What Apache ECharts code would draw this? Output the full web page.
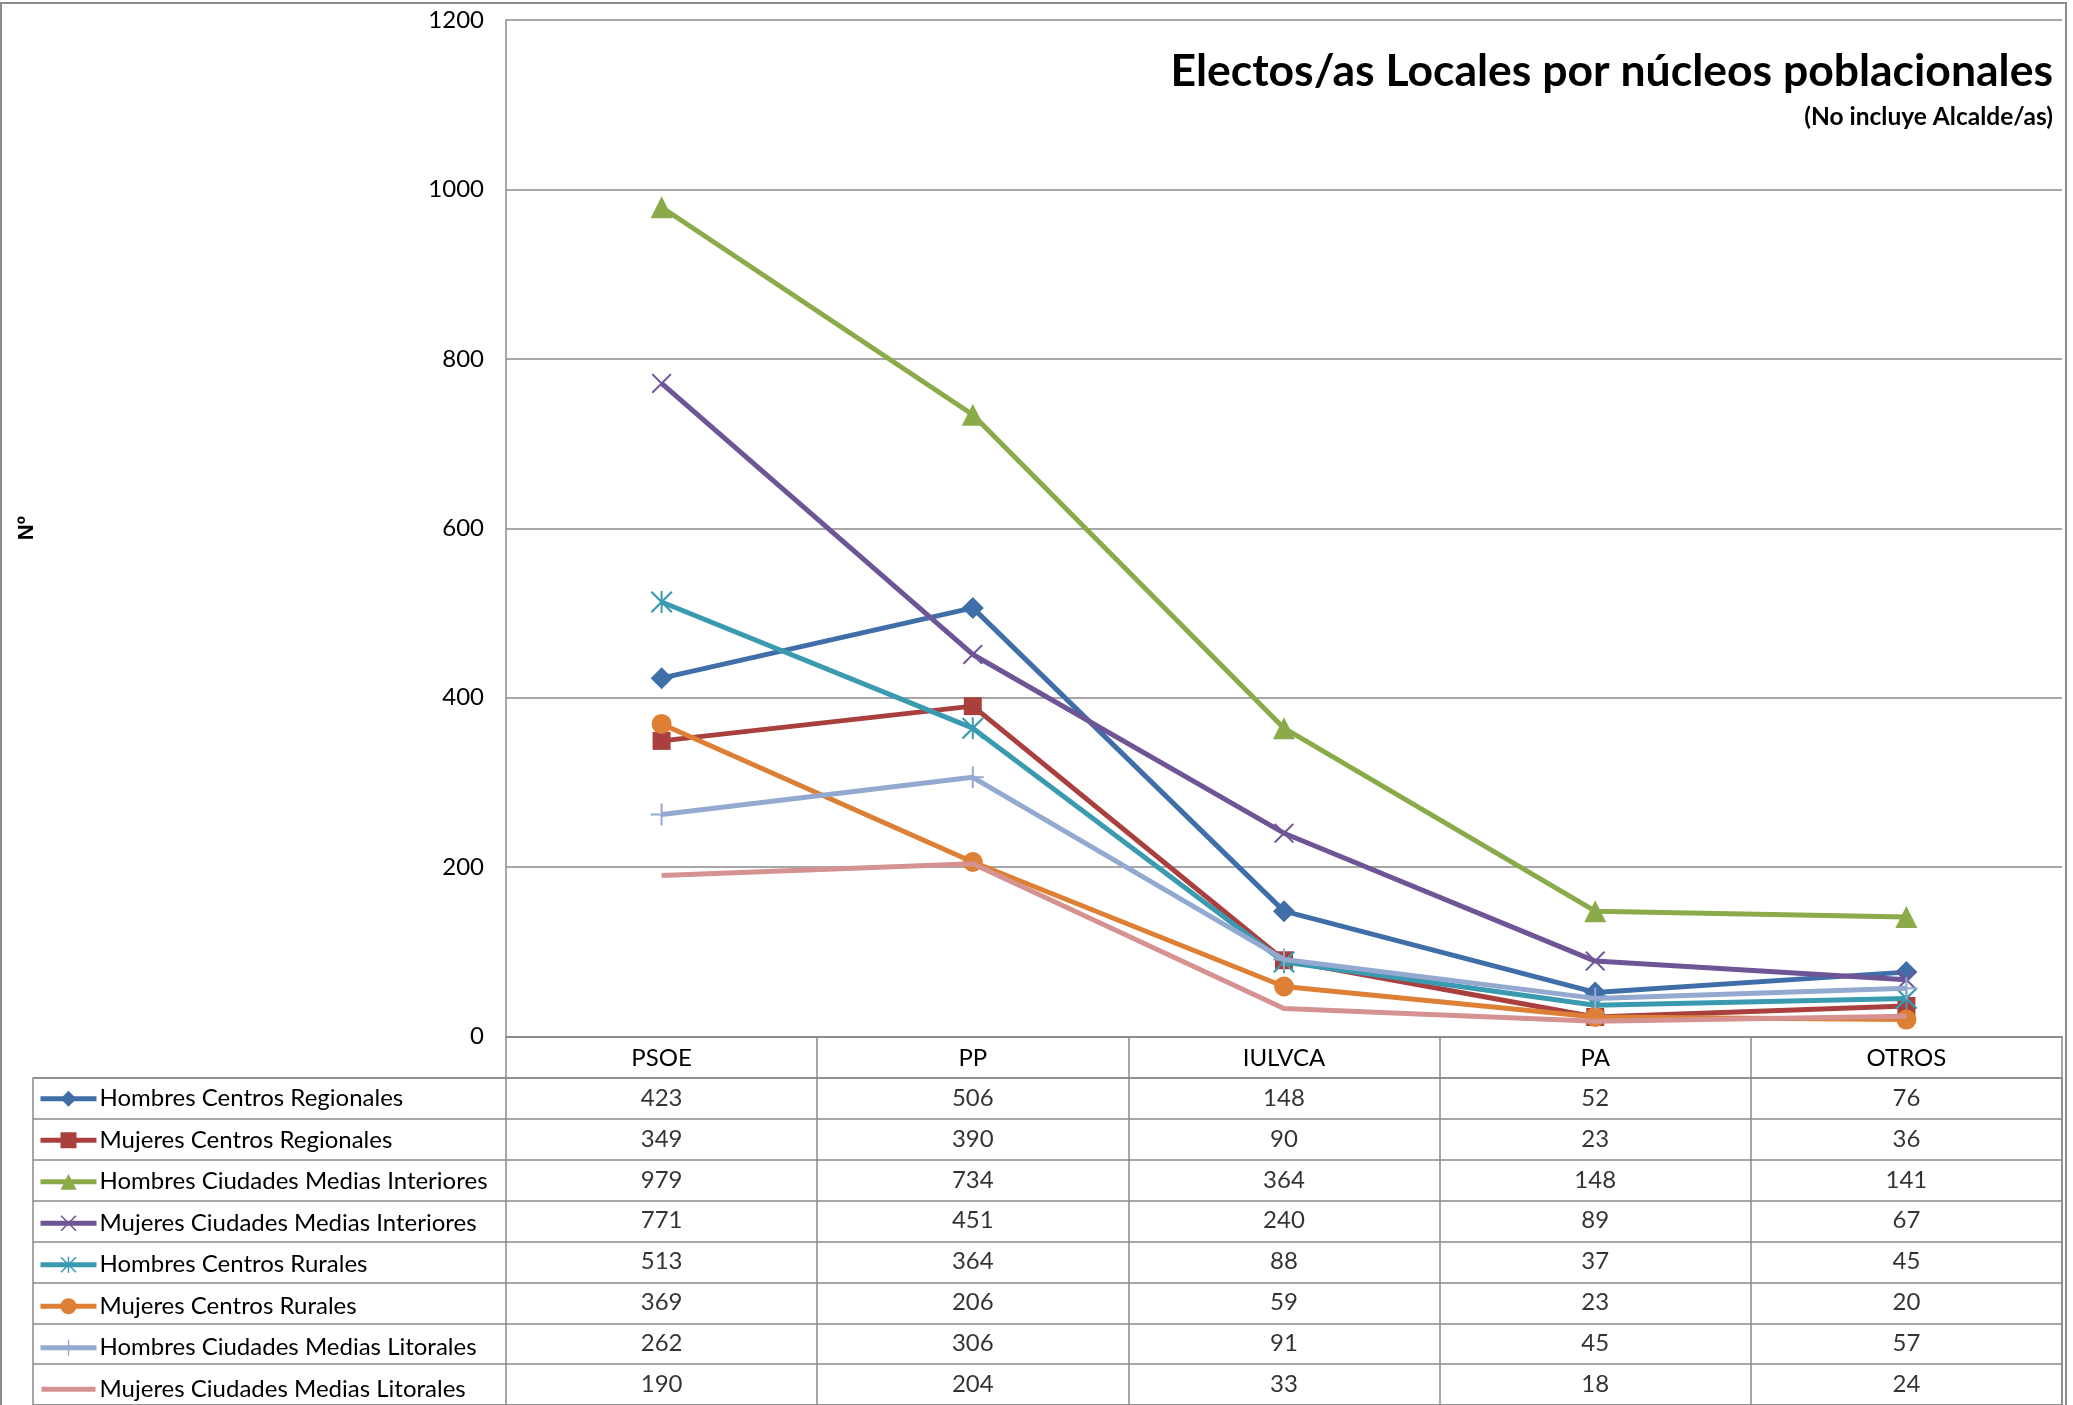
<!DOCTYPE html>
<html>
<head>
<meta charset="utf-8">
<script src="https://cdn.jsdelivr.net/npm/echarts@6/dist/echarts.min.js"></script>
<style>
  html, body { margin: 0; padding: 0; background: #fff; }
  #chart { width: 2073px; height: 1405px; }
</style>
</head>
<body>
<div id="chart"></div>
<script>
// categorias (partidos)
const categories = ['PSOE', 'PP', 'IULVCA', 'PA', 'OTROS']

// nombres de las series
const seriesNames = [
  'Hombres Centros Regionales',
  'Mujeres Centros Regionales',
  'Hombres Ciudades Medias Interiores',
  'Mujeres Ciudades Medias Interiores',
  'Hombres Centros Rurales',
  'Mujeres Centros Rurales',
  'Hombres Ciudades Medias Litorales',
  'Mujeres Ciudades Medias Litorales'
]

// valores de cada serie
const hombresCentrosRegionales = [423, 506, 148, 52, 76]
const mujeresCentrosRegionales = [349, 390, 90, 23, 36]
const hombresMediasInteriores = [979, 734, 364, 148, 141]
const mujeresMediasInteriores = [771, 451, 240, 89, 67]
const hombresCentrosRurales = [513, 364, 88, 37, 45]
const mujeresCentrosRurales = [369, 206, 59, 23, 20]
const hombresMediasLitorales = [262, 306, 91, 45, 57]
const mujeresMediasLitorales = [190, 204, 33, 18, 24]

const seriesValues = [
  hombresCentrosRegionales,
  mujeresCentrosRegionales,
  hombresMediasInteriores,
  mujeresMediasInteriores,
  hombresCentrosRurales,
  mujeresCentrosRurales,
  hombresMediasLitorales,
  mujeresMediasLitorales
]

// eje Y
const yMin = 0
const yMax = 1200
const yStep = 200

// marcadores tipo Excel (x, asterisco, cruz)
const xMark = 'path://M0,1.4L1.4,0L10,8.6L18.6,0L20,1.4L11.4,10L20,18.6L18.6,20L10,11.4L1.4,20L0,18.6L8.6,10Z'
const starMark = xMark + 'M9.1,0h1.8v20h-1.8z'
const plusMark = 'path://M9.1,0h1.8v9.1h9.1v1.8h-9.1v9.1h-1.8v-9.1h-9.1v-1.8h9.1z'
// icono de leyenda solo linea (serie sin marcador)
const lineOnlyIcon = 'path://M0,0L0.01,0L0,0.01ZM1,7.5H55V12.5H1ZM55.99,20L56,20L56,19.99Z'

const colors = ['#3f6ea8', '#a9403d', '#8bab4a', '#6e5596', '#3a9bb0', '#dd8035', '#94a9d0', '#d59290']
const symbols = ['diamond', 'rect', 'triangle', xMark, starMark, 'circle', plusMark, 'none']
const symbolSizes = [22, 18, 22, 20, 22, 20, 22, 0]

const FONT = 'Lato'
const GRID_LINE = '#8a8a8a'
const FS = 24

// medidas de la tabla
const plotLeft = 506
const plotRight = 11
const plotTop = 20
const plotBottom = 1036.5
const rowH = 41.5

const chart = echarts.init(document.getElementById('chart'))

// series de lineas
const lineSeries = seriesNames.map((name, i) => ({
  type: 'line',
  name: name,
  xAxisIndex: 0,
  yAxisIndex: 0,
  data: seriesValues[i],
  color: colors[i],
  symbol: symbols[i],
  symbolSize: symbolSizes[i],
  showSymbol: symbols[i] !== 'none',
  lineStyle: { width: 5, color: colors[i] },
  itemStyle: { color: colors[i] },
  z: 3 + i
}))

// celdas de la tabla (valores)
const cellData = []
seriesValues.forEach((vals, i) => {
  vals.forEach((v, j) => {
    cellData.push([j, i + 1, v])
  })
})

// entradas de leyenda
const legendData = seriesNames.map((name, i) =>
  symbols[i] === 'none' ? { name: name, icon: lineOnlyIcon } : { name: name }
)

const legendTextH = FS

const options = {
  backgroundColor: '#fff',
  animation: false,
  textStyle: { fontFamily: FONT },
  title: [
    {
      text: 'Electos/as Locales por núcleos poblacionales',
      right: 20,
      top: 49,
      padding: 0,
      textStyle: { fontFamily: FONT, fontSize: 44.5, fontWeight: 'bold', color: '#000' }
    },
    {
      text: '(No incluye Alcalde/as)',
      right: 20,
      top: 105,
      padding: 0,
      textStyle: { fontFamily: FONT, fontSize: 24.5, fontWeight: 'bold', color: '#000' }
    }
  ],
  legend: {
    data: legendData,
    orient: 'vertical',
    left: 38,
    top: plotBottom + rowH + (rowH - legendTextH) / 2,
    height: 400,
    padding: 0,
    itemWidth: 56,
    itemHeight: 20,
    itemGap: rowH - legendTextH,
    lineStyle: { width: 5 },
    textStyle: { fontFamily: FONT, fontSize: FS, color: '#000', lineHeight: legendTextH, padding: [0, 0, 0, -2] },
    selectedMode: false
  },
  graphic: [
    {
      type: 'rect',
      shape: { x: 1, y: 3, width: 2065, height: 1430 },
      style: { fill: 'none', stroke: '#8c8c8c', lineWidth: 2 },
      silent: true
    }
  ],
  grid: [
    // grafico
    { left: plotLeft, right: plotRight, top: plotTop, height: plotBottom - plotTop },
    // lineas de filas (incluye columna de leyenda)
    { left: 33, right: plotRight, top: plotBottom + rowH, height: rowH * 8, show: true, borderColor: GRID_LINE, borderWidth: 1.5 },
    // columnas de datos
    { left: plotLeft, right: plotRight, top: plotBottom, height: rowH * 9 }
  ],
  xAxis: [
    {
      type: 'category',
      gridIndex: 0,
      data: categories,
      boundaryGap: true,
      axisLine: { show: true, lineStyle: { color: GRID_LINE, width: 1.5 } },
      axisTick: { show: false },
      axisLabel: { show: false }
    },
    {
      type: 'category',
      gridIndex: 1,
      data: [''],
      show: false
    },
    {
      type: 'category',
      gridIndex: 2,
      data: categories,
      position: 'top',
      boundaryGap: true,
      axisLine: { show: true, lineStyle: { color: GRID_LINE, width: 1.5 } },
      axisTick: { show: false },
      axisLabel: { inside: true, margin: 10, fontFamily: FONT, fontSize: FS, color: '#000', interval: 0 },
      splitLine: { show: true, interval: 0, lineStyle: { color: GRID_LINE, width: 1.5 } }
    }
  ],
  yAxis: [
    {
      type: 'value',
      gridIndex: 0,
      min: yMin,
      max: yMax,
      interval: yStep,
      name: 'Nº',
      nameLocation: 'middle',
      nameRotate: 90,
      nameGap: 468,
      nameTextStyle: { fontFamily: 'Liberation Sans', fontSize: 22, fontWeight: 'bold', color: '#000' },
      axisLine: { show: true, lineStyle: { color: GRID_LINE, width: 1.5 } },
      axisTick: { show: false },
      axisLabel: { margin: 22, fontFamily: FONT, fontSize: FS, color: '#000', formatter: (v) => String(v) },
      splitLine: { show: true, lineStyle: { color: GRID_LINE, width: 1.5 } }
    },
    {
      type: 'category',
      gridIndex: 1,
      data: seriesNames,
      inverse: true,
      axisLine: { show: false },
      axisTick: { show: false },
      axisLabel: { show: false },
      splitLine: { show: true, interval: 0, lineStyle: { color: GRID_LINE, width: 1.5 } }
    },
    {
      type: 'category',
      gridIndex: 2,
      data: ['cabecera'].concat(seriesNames),
      inverse: true,
      show: false
    }
  ],
  series: lineSeries.concat([
    {
      type: 'scatter',
      name: 'tabla',
      xAxisIndex: 2,
      yAxisIndex: 2,
      data: cellData,
      symbolSize: 1,
      itemStyle: { color: 'rgba(0,0,0,0)' },
      label: {
        show: true,
        position: 'inside',
        formatter: (p) => String(p.value[2]),
        fontFamily: FONT,
        fontSize: FS,
        color: '#000'
      },
      silent: true
    }
  ])
}

chart.setOption(options)
</script>
</body>
</html>
